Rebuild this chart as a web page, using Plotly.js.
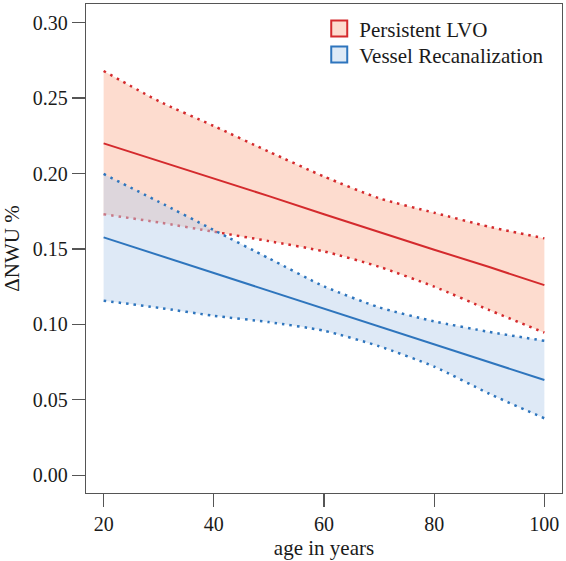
<!DOCTYPE html>
<html>
<head>
<meta charset="utf-8">
<script src="https://cdn.plot.ly/plotly-3.0.1.min.js"></script>
<style>
html, body { margin: 0; padding: 0; background: #ffffff; }
#chart { width: 566px; height: 561px; }
</style>
</head>
<body>
<div id="chart"></div>
<script>
// Ages (x) at which the curves were read
const ages = [20, 30, 40, 50, 60, 70, 80, 90, 100];

// Persistent LVO
const lvoMean  = [0.220, 0.2085, 0.197, 0.185, 0.173, 0.161, 0.1495, 0.138, 0.126];
const lvoUpper = [0.268, 0.248, 0.2315, 0.2145, 0.198, 0.1836, 0.174, 0.1647, 0.157];
const lvoLower = [0.173, 0.1676, 0.1614, 0.1552, 0.1484, 0.1382, 0.125, 0.1095, 0.0945];

// Vessel Recanalization
const recMean  = [0.1577, 0.1459, 0.134, 0.122, 0.1104, 0.0986, 0.0867, 0.0749, 0.0631];
const recUpper = [0.1997, 0.1813, 0.1625, 0.1438, 0.1252, 0.1113, 0.102, 0.095, 0.0891];
const recLower = [0.1157, 0.111, 0.1057, 0.1015, 0.0958, 0.0855, 0.072, 0.054, 0.0377];

const seriesNames = ["Persistent LVO", "Vessel Recanalization"];
const xTicks = [20, 40, 60, 80, 100];
const yTicks = [0.00, 0.05, 0.10, 0.15, 0.20, 0.25, 0.30];

const RED = "#d42a2d";
const BLUE = "#2e75bd";
const RED_FILL = "#fddccf";
const BLUE_FILL = "rgba(184,208,235,0.47)";
const FONT = "Liberation Serif, DejaVu Serif, serif";
const TXT = "#1a1a1a";
const DOT = "2.5px,5px";
const smooth = { shape: "spline", smoothing: 0.6 };

const traces = [
  { x: ages, y: lvoLower, mode: "lines", line: Object.assign({ color: RED, width: 2.5, dash: DOT }, smooth), showlegend: false, hoverinfo: "skip" },
  { x: ages, y: lvoUpper, mode: "lines", line: Object.assign({ color: RED, width: 2.5, dash: DOT }, smooth), fill: "tonexty", fillcolor: RED_FILL, showlegend: false, hoverinfo: "skip" },
  { x: ages, y: lvoMean, mode: "lines", line: { color: RED, width: 2 }, showlegend: false },
  { x: ages, y: recLower, mode: "lines", line: Object.assign({ color: BLUE, width: 2.5, dash: DOT }, smooth), showlegend: false, hoverinfo: "skip" },
  { x: ages, y: recUpper, mode: "lines", line: Object.assign({ color: BLUE, width: 2.5, dash: DOT }, smooth), fill: "tonexty", fillcolor: BLUE_FILL, showlegend: false, hoverinfo: "skip" },
  { x: ages, y: recMean, mode: "lines", line: { color: BLUE, width: 2 }, showlegend: false },
  // legend entries
  { x: [null], y: [null], mode: "markers", name: seriesNames[0], legend: "legend",
    marker: { symbol: "square", size: 16, color: RED_FILL, line: { color: RED, width: 2 } } },
  { x: [null], y: [null], mode: "markers", name: seriesNames[1], legend: "legend2",
    marker: { symbol: "square", size: 16, color: "#deeaf6", line: { color: BLUE, width: 2 } } }
];

const axisCommon = {
  showgrid: false, zeroline: false,
  showline: true, mirror: true, linecolor: "#555555", linewidth: 1.3,
  ticks: "outside", ticklen: 13, tickwidth: 1.3, tickcolor: "#555555",
  tickfont: { family: FONT, size: 20, color: TXT }
};

const legendCommon = {
  xanchor: "left", yanchor: "top",
  bgcolor: "rgba(0,0,0,0)", borderwidth: 0,
  font: { family: FONT, size: 21, color: TXT },
  itemsizing: "trace", traceorder: "normal"
};

const layout = {
  width: 566, height: 561,
  margin: { l: 86, r: 4, t: 4, b: 68 },
  paper_bgcolor: "#ffffff", plot_bgcolor: "#ffffff",
  font: { family: FONT, size: 20, color: TXT },
  xaxis: Object.assign({}, axisCommon, {
    range: [16.8, 103.2], tickmode: "array", tickvals: xTicks, ticktext: xTicks.map(String),
    title: { text: "age in years", font: { family: FONT, size: 21, color: TXT }, standoff: 6 }
  }),
  yaxis: Object.assign({}, axisCommon, {
    range: [-0.0118, 0.3124], tickmode: "array", tickvals: yTicks, ticktext: yTicks.map(v => v.toFixed(2)),
    title: { text: "\u0394NWU %", font: { family: FONT, size: 21, color: TXT }, standoff: 10 }
  }),
  legend: Object.assign({}, legendCommon, { x: 0.49, y: 0.991 }),
  legend2: Object.assign({}, legendCommon, { x: 0.49, y: 0.938 }),
  showlegend: true
};

Plotly.newPlot("chart", traces, layout, { staticPlot: true, displayModeBar: false });
</script>
</body>
</html>
